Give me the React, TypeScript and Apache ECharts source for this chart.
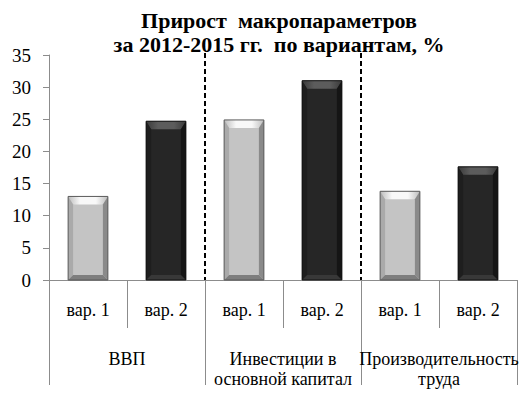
import React, { useEffect, useRef } from "react";
import * as echarts from "echarts";

const subCategories = ["вар. 1", "вар. 2", "вар. 1", "вар. 2", "вар. 1", "вар. 2"];
const groups = ["ВВП", "Инвестиции в\nосновной капитал", "Производительность\nтруда"];
const variant1 = [13.0, 24.9, 13.8];
const variant2 = [24.7, 31.0, 17.6];
const yTicks = [0, 5, 10, 15, 20, 25, 30, 35];
const separators = [1, 3]; // dashed line after these sub-category indices

const FONT = "Liberation Serif";

const palettes = [
  { face: "#c4c4c4", top: "#f8f8f8", topEdge: "#bdbdbd", left: "#aaaaaa", right: "#8a8a8a", bottom: "#7e7e7e", edge: "#5a5a5a" },
  { face: "#262626", top: "#5c5c5c", topEdge: "#3a3a3a", left: "#1e1e1e", right: "#151515", bottom: "#383838", edge: "#111111" },
];

export default function App() {
  const ref = useRef<HTMLDivElement>(null);

  useEffect(() => {
    document.body.style.margin = "0";
    const chart = echarts.init(ref.current!, null, { renderer: "svg" });

    const barData: number[][] = [];
    groups.forEach((_, g) => {
      barData.push([2 * g, variant1[g], 0]);
      barData.push([2 * g + 1, variant2[g], 1]);
    });

    const renderBar = (params: any, api: any) => {
      const idx = api.value(0);
      const val = api.value(1);
      const v = api.value(2);
      const top = api.coord([idx, val]);
      const base = api.coord([idx, 0]);
      const w = api.size([1, 0])[0] * 0.51;
      const x0 = top[0] - w / 2;
      const x1 = top[0] + w / 2;
      const y0 = top[1];
      const y1 = base[1];
      const p = palettes[v];
      const bt = 8, bs = 5, bb = 5;
      return {
        type: "group",
        children: [
          { type: "rect", shape: { x: x0, y: y0, width: w, height: y1 - y0 }, style: { fill: p.face } },
          {
            type: "polygon",
            shape: { points: [[x0, y0], [x1, y0], [x1 - bs, y0 + bt], [x0 + bs, y0 + bt]] },
            style: {
              fill: new echarts.graphic.LinearGradient(0, 0, 1, 0, [
                { offset: 0, color: p.topEdge },
                { offset: 0.3, color: p.top },
                { offset: 0.7, color: p.top },
                { offset: 1, color: p.topEdge },
              ]),
            },
          },
          {
            type: "polygon",
            shape: { points: [[x0, y0], [x0 + bs, y0 + bt], [x0 + bs, y1 - bb], [x0, y1]] },
            style: { fill: p.left },
          },
          {
            type: "polygon",
            shape: { points: [[x1, y0], [x1, y1], [x1 - bs, y1 - bb], [x1 - bs, y0 + bt]] },
            style: { fill: p.right },
          },
          {
            type: "polygon",
            shape: { points: [[x0, y1], [x0 + bs, y1 - bb], [x1 - bs, y1 - bb], [x1, y1]] },
            style: { fill: p.bottom },
          },
          {
            type: "rect",
            shape: { x: x0, y: y0, width: w, height: y1 - y0 },
            style: { fill: "none", stroke: p.edge, lineWidth: 1 },
          },
        ],
      };
    };

    const renderSep = (params: any, api: any) => {
      const idx = api.value(0);
      const a = api.coord([idx, 0]);
      const b = api.coord([idx + 1, 0]);
      const x = (a[0] + b[0]) / 2;
      const topY = api.coord([idx, yTicks[yTicks.length - 1]])[1] - 2;
      return {
        type: "line",
        shape: { x1: x, y1: topY, x2: x, y2: a[1] },
        style: { stroke: "#000", lineWidth: 2, lineDash: [5, 3] },
      };
    };

    chart.setOption({
      animation: false,
      textStyle: { fontFamily: FONT },
      title: {
        text: "Прирост  макропараметров\nза 2012-2015 гг.  по вариантам, %",
        left: 274,
        top: 3,
        textAlign: "center",
        textStyle: { fontFamily: FONT, fontWeight: "bold", fontSize: 22, lineHeight: 24, color: "#000" },
      },
      grid: { left: 49, right: 12, top: 55, bottom: 117 },
      xAxis: [
        {
          type: "category",
          data: subCategories,
          boundaryGap: true,
          axisLine: { show: true, lineStyle: { color: "#8c8c8c", width: 1 } },
          axisTick: { show: true, length: 48, interval: 0, lineStyle: { color: "#8c8c8c" } },
          axisLabel: { interval: 0, margin: 21, fontFamily: FONT, fontSize: 18, color: "#000" },
        },
        {
          type: "category",
          data: groups,
          position: "bottom",
          boundaryGap: true,
          axisLine: { show: false },
          axisTick: { show: true, length: 105, interval: 0, lineStyle: { color: "#8c8c8c" } },
          axisLabel: {
            interval: 0,
            margin: 69,
            verticalAlign: "top",
            lineHeight: 20,
            fontFamily: FONT,
            fontSize: 18,
            color: "#000",
          },
        },
      ],
      yAxis: {
        type: "value",
        min: 0,
        max: yTicks[yTicks.length - 1],
        interval: 5,
        splitLine: { show: false },
        axisLine: { show: true, lineStyle: { color: "#8c8c8c" } },
        axisTick: { show: true, length: 6, lineStyle: { color: "#8c8c8c" } },
        axisLabel: { margin: 18, fontFamily: FONT, fontSize: 19, color: "#000" },
      },
      series: [
        {
          type: "custom",
          xAxisIndex: 0,
          renderItem: renderBar,
          data: barData,
          encode: { x: 0, y: 1 },
          z: 3,
        },
        {
          type: "custom",
          xAxisIndex: 0,
          renderItem: renderSep,
          data: separators.map((s) => [s, 0]),
          encode: { x: 0, y: 1 },
          z: 2,
        },
      ],
    });

    return () => chart.dispose();
  }, []);

  return <div ref={ref} style={{ width: 529, height: 397 }} />;
}
